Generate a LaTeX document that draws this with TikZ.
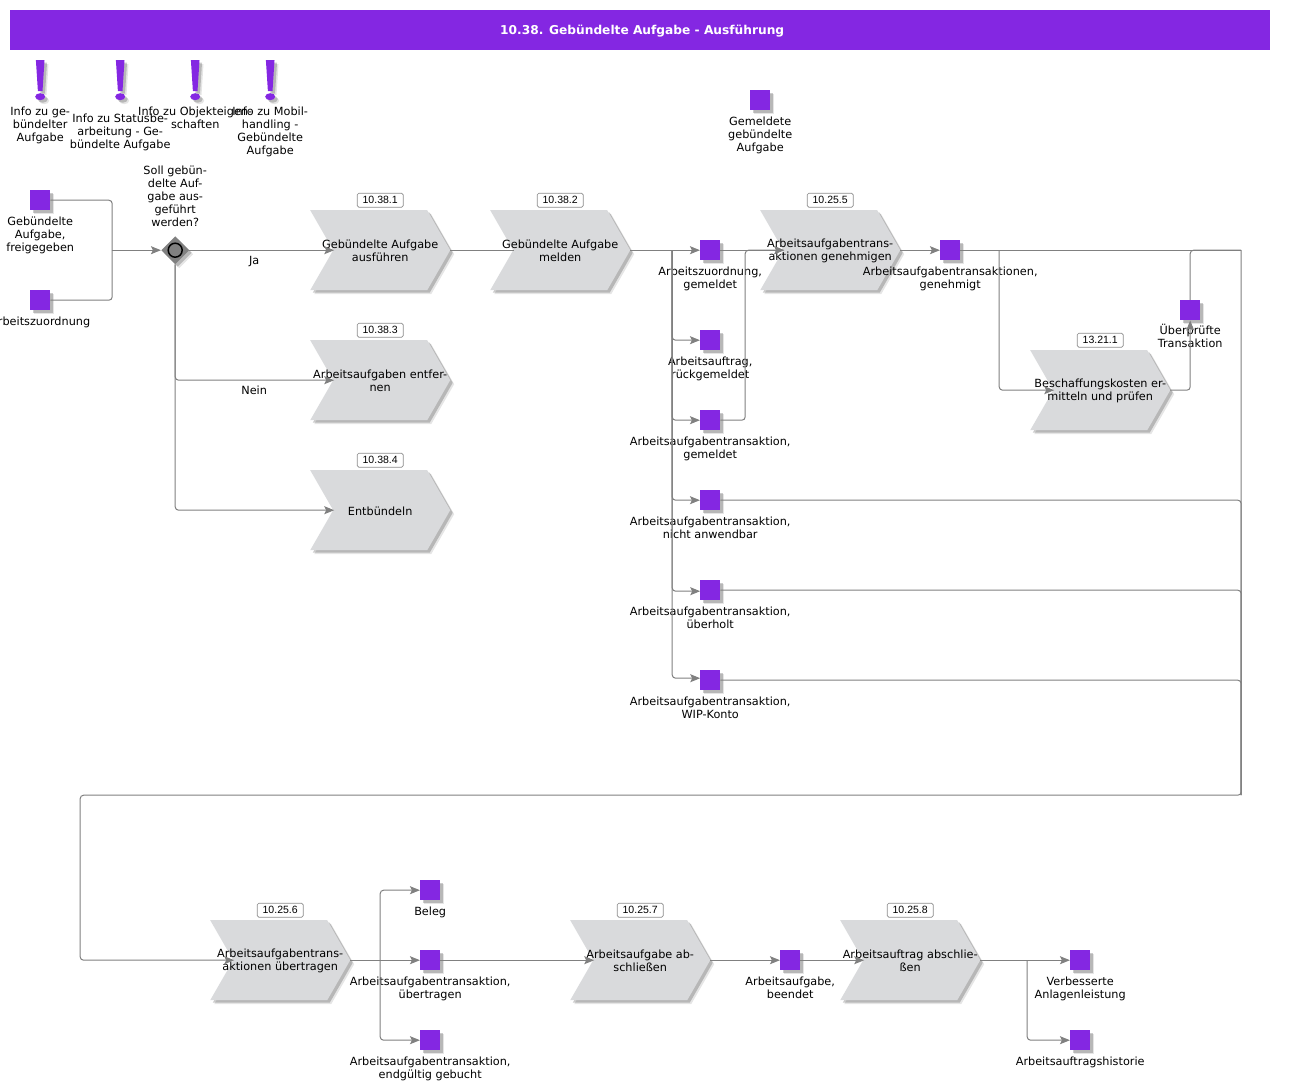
\documentclass[tikz,border=0pt]{standalone}
\usepackage{fontspec}
\setmainfont{DejaVu Sans}
\newfontfamily\reffont{Liberation Sans}
\usetikzlibrary{arrows.meta,shadows,shapes.geometric}
\definecolor{evtcolor}{HTML}{8427E2}
\definecolor{proccolor}{HTML}{D9DADC}
\definecolor{linecolor}{HTML}{808080}
\tikzset{
	txt/.style={font=\fontsize{8.45}{9.75}\selectfont, align=center, inner sep=0pt, text=black},
	soft/.style={drop shadow={shadow xshift=3pt, shadow yshift=-3pt, fill=black, opacity=.1}, drop shadow={shadow xshift=1.9pt, shadow yshift=-1.9pt, fill=black, opacity=.2}},
	evt/.style={fill=evtcolor, minimum size=15pt, inner sep=0pt, soft},
	evtxt/.style={txt, label distance=4.5pt},
	proc/.style={fill=proccolor, soft},
	ref/.style={draw=black!45, fill=white, rounded corners=1.2pt, line width=.5pt, minimum width=34.5pt, minimum height=10.5pt, inner sep=0pt, font=\reffont\fontsize{7.9}{9}\selectfont},
	conn/.style={draw=linecolor, line width=.75pt, rounded corners=2.5pt},
	arr/.style={conn, -{Stealth[length=7.5pt, width=6pt, inset=1.5pt]}}
}
\newcommand{\procstep}[5]{
	\fill[proc, shift={(#2,#3)}] (-70,-40) -- (47,-40) -- (70,0) -- (47,40) -- (-70,40) -- (-47,0) -- cycle;
	\node [txt, minimum width=105pt, minimum height=60pt] (#1) at (#2,#3+.8) {#5};
	\coordinate (#1in) at (#2-46,#3);
	\coordinate (#1out) at (#2+70,#3);
	\node [ref] (#1ref) at (#2,#3-50) {#4};
}
\begin{document}
\begin{tikzpicture}[x=.75pt,y=-.75pt]
	\useasboundingbox (-.2,-.2) rectangle (1290.8,1090.8);
	\node [fill=evtcolor, minimum width=945pt, minimum height=30pt, inner sep=0pt, text=white, font=\fontsize{9.15}{11}\bfseries] (title) at (640,30) {\hspace{3pt}\raisebox{-3pt}[0pt][0pt]{10.38. Gebündelte Aufgabe - Ausführung}};
	\foreach \x in {40,120,195,270} {
		\fill[evtcolor, soft, shift={(\x,0)}] (-4.3,60) -- (4.3,60) -- (2.3,91) -- (-2.3,91) -- cycle (0,96.5) ellipse [x radius=5, y radius=3.5];
	}
	\node [txt, anchor=north] (i1) at (40,106) {Info zu ge-\\bündelter\\Aufgabe};
	\node [txt, anchor=north] (i2) at (120,113) {Info zu Statusbe-\\arbeitung - Ge-\\bündelte Aufgabe};
	\node [txt, anchor=north] (i3) at (195,106) {Info zu Objekteigen-\\schaften};
	\node [txt, anchor=north] (i4) at (270,106) {Info zu Mobil-\\handling -\\Gebündelte\\Aufgabe};
	\node [evt, label={[evtxt]below:{Gemeldete\\gebündelte\\Aufgabe}}] (e0) at (760,100) {};
	\node [evt, label={[evtxt]below:{Gebündelte\\Aufgabe,\\freigegeben}}] (e1) at (40,200) {};
	\node [evt, label={[evtxt]below:{Arbeitszuordnung}}] (e2) at (40,300) {};
	\node [diamond, fill=linecolor, minimum size=21pt, inner sep=0pt, soft] (d1) at (175,250) {};
	\node [circle, draw=black, line width=1.1pt, fill=linecolor, minimum size=10.5pt, inner sep=0pt] (d1c) at (175,250) {};
	\node [txt, anchor=south] (d1t) at (175,227) {Soll gebün-\\delte Auf-\\gabe aus-\\geführt\\werden?};
	\procstep{p1}{380}{250}{10.38.1}{Gebündelte Aufgabe\\ausführen}
	\procstep{p2}{560}{250}{10.38.2}{Gebündelte Aufgabe\\melden}
	\procstep{p3}{380}{380}{10.38.3}{Arbeitsaufgaben entfer-\\nen}
	\procstep{p4}{380}{510}{10.38.4}{Entbündeln}
	\procstep{p5}{830}{250}{10.25.5}{Arbeitsaufgabentrans-\\aktionen genehmigen}
	\procstep{p6}{1100}{390}{13.21.1}{Beschaffungskosten er-\\mitteln und prüfen}
	\procstep{p7}{280}{960}{10.25.6}{Arbeitsaufgabentrans-\\aktionen übertragen}
	\procstep{p8}{640}{960}{10.25.7}{Arbeitsaufgabe ab-\\schließen}
	\procstep{p9}{910}{960}{10.25.8}{Arbeitsauftrag abschlie-\\ßen}
	\node [evt, label={[evtxt]below:{Arbeitszuordnung,\\gemeldet}}] (e3) at (710,250) {};
	\node [evt, label={[evtxt]below:{Arbeitsauftrag,\\rückgemeldet}}] (e4) at (710,340) {};
	\node [evt, label={[evtxt]below:{Arbeitsaufgabentransaktion,\\gemeldet}}] (e5) at (710,420) {};
	\node [evt, label={[evtxt]below:{Arbeitsaufgabentransaktion,\\nicht anwendbar}}] (e6) at (710,500) {};
	\node [evt, label={[evtxt]below:{Arbeitsaufgabentransaktion,\\überholt}}] (e7) at (710,590) {};
	\node [evt, label={[evtxt]below:{Arbeitsaufgabentransaktion,\\WIP-Konto}}] (e8) at (710,680) {};
	\node [evt, label={[evtxt]below:{Arbeitsaufgabentransaktionen,\\genehmigt}}] (e9) at (950,250) {};
	\node [evt, label={[evtxt, label distance=2.6pt]below:{Überprüfte\\Transaktion}}] (e10) at (1190,310) {};
	\node [evt, label={[evtxt]below:{Beleg}}] (e11) at (430,890) {};
	\node [evt, label={[evtxt]below:{Arbeitsaufgabentransaktion,\\übertragen}}] (e12) at (430,960) {};
	\node [evt, label={[evtxt]below:{Arbeitsaufgabentransaktion,\\endgültig gebucht}}] (e13) at (430,1040) {};
	\node [evt, label={[evtxt]below:{Arbeitsaufgabe,\\beendet}}] (e14) at (790,960) {};
	\node [evt, label={[evtxt]below:{Verbesserte\\Anlagenleistung}}] (e15) at (1080,960) {};
	\node [evt, label={[evtxt]below:{Arbeitsauftragshistorie}}] (e16) at (1080,1040) {};
	\node [txt] (ja) at (254,261) {Ja};
	\node [txt] (nein) at (254,390) {Nein};
	\coordinate (m1) at (112,250);
	\coordinate (m2) at (672,250);
	\coordinate (m3) at (745,250);
	\coordinate (m4) at (999,250);
	\coordinate (m5) at (1241,250);
	\coordinate (m6) at (1241,795);
	\coordinate (m7) at (80,795);
	\coordinate (m8) at (80,960);
	\coordinate (m9) at (380,960);
	\coordinate (m10) at (1027,960);
	\coordinate (e7in) at (700,591);
	\coordinate (e8in) at (700,678);
	\draw [conn] (e1) -| (m1);
	\draw [conn] (e2) -| (m1);
	\draw [arr] (m1) -- (d1);
	\draw [arr] (d1) -- (p1in);
	\draw [arr] (d1) |- (p3in);
	\draw [arr] (d1) |- (p4in);
	\draw [conn] (p1out) -- (p2in);
	\draw [arr] (p2out) -- (e3);
	\draw [arr] (m2) |- (e4);
	\draw [arr] (m2) |- (e5);
	\draw [arr] (m2) |- (e6);
	\draw [arr] (m2) |- (e7in);
	\draw [arr] (m2) |- (e8in);
	\draw [arr] (e3) -- (p5in);
	\draw [arr] (e5) -| (m3) -- (p5in);
	\draw [arr] (p5out) -- (e9);
	\draw [conn] (e9) -- (m5);
	\draw [arr] (m4) |- (p6in);
	\draw [arr] (p6out) -| (e10);
	\draw [conn] (e10) |- (m5);
	\draw [conn] (e6) -| (m6);
	\draw [conn] (e7) -| (m6);
	\draw [conn] (e8) -| (m6);
	\draw [arr] (m5) -- (m6) -- (m7) -- (m8) -- (p7in);
	\draw [arr] (p7out) -- (e12);
	\draw [arr] (m9) |- (e11);
	\draw [arr] (m9) |- (e13);
	\draw [arr] (e12) -- (p8in);
	\draw [arr] (p8out) -- (e14);
	\draw [arr] (e14) -- (p9in);
	\draw [arr] (p9out) -- (e15);
	\draw [arr] (m10) |- (e16);
\end{tikzpicture}
\end{document}
